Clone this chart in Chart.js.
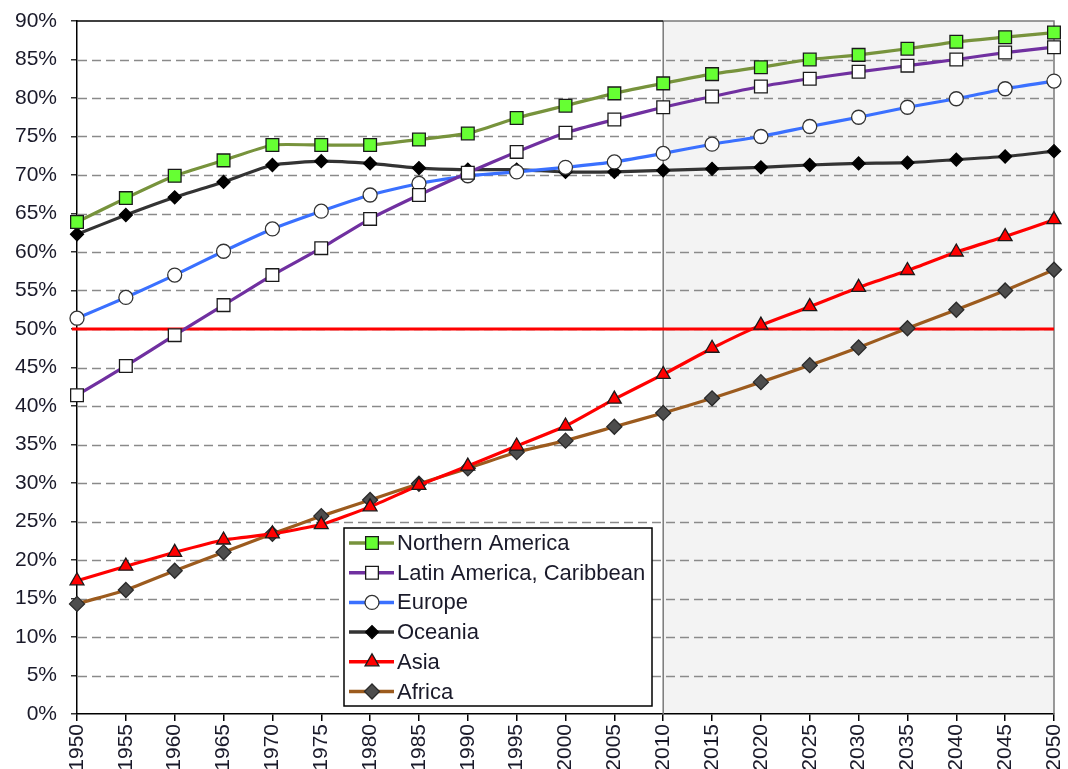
<!DOCTYPE html>
<html>
<head>
<meta charset="utf-8">
<script src="https://cdn.jsdelivr.net/npm/chart.js@4/dist/chart.umd.min.js"></script>
<style>
  html, body { margin: 0; padding: 0; background: #fff; }
  #wrap { width: 1068px; height: 769px; position: relative; }
</style>
</head>
<body>
<div id="wrap"><canvas id="urbanChart"></canvas></div>
<script>
// Years on the x axis
const years = ['1950','1955','1960','1965','1970','1975','1980','1985','1990','1995','2000',
               '2005','2010','2015','2020','2025','2030','2035','2040','2045','2050'];

// Urban share of population (%) by region
const northernAmerica = [63.9, 67.0, 69.9, 71.9, 73.9, 73.9, 73.9, 74.6, 75.4, 77.4, 79.0,
                         80.6, 81.9, 83.1, 84.0, 85.0, 85.6, 86.4, 87.3, 87.9, 88.5];
const latinAmerica    = [41.4, 45.2, 49.2, 53.1, 57.0, 60.5, 64.3, 67.4, 70.3, 73.0, 75.5,
                         77.2, 78.8, 80.2, 81.5, 82.5, 83.4, 84.2, 85.0, 85.9, 86.6];
const europe          = [51.4, 54.1, 57.0, 60.1, 63.0, 65.3, 67.4, 68.9, 69.9, 70.4, 71.0,
                         71.7, 72.8, 74.0, 75.0, 76.3, 77.5, 78.8, 79.9, 81.2, 82.2];
const oceania         = [62.3, 64.8, 67.1, 69.1, 71.3, 71.8, 71.5, 70.9, 70.7, 70.7, 70.4,
                         70.4, 70.6, 70.8, 71.0, 71.3, 71.5, 71.6, 72.0, 72.4, 73.1];
const asia            = [17.3, 19.2, 21.0, 22.6, 23.4, 24.6, 26.9, 29.7, 32.2, 34.8, 37.4,
                         40.9, 44.1, 47.5, 50.5, 52.9, 55.4, 57.6, 60.0, 62.0, 64.2];
const africa          = [14.3, 16.1, 18.6, 21.0, 23.4, 25.7, 27.8, 29.9, 31.9, 34.0, 35.5,
                         37.3, 39.1, 41.0, 43.1, 45.3, 47.6, 50.1, 52.5, 55.0, 57.7];

const projectionStart = '2010';
const halfLine = 50;

const FONT = '"Liberation Sans", Arial, sans-serif';

const makeSet = (label, data, line, fill, style, radius, border) => ({
    label,
    data,
    borderColor: line,
    borderWidth: 3.2,
    pointStyle: style,
    pointRadius: radius,
    pointBackgroundColor: fill,
    pointBorderColor: border || '#1a1a1a',
    pointBorderWidth: 1.3,
    tension: 0.15,
    fill: false
});

const datasets = [
    makeSet('Northern America', northernAmerica, '#77933C', '#66FF33', 'rect', 9),
    makeSet('Latin America, Caribbean', latinAmerica, '#7030A0', '#ffffff', 'rect', 9),
    makeSet('Europe', europe, '#3A70FF', '#ffffff', 'circle', 7, '#333'),
    makeSet('Oceania', oceania, '#333333', '#000000', 'rectRot', 6.5, '#000'),
    makeSet('Asia', asia, '#FF0000', '#FF0000', 'triangle', 8),
    makeSet('Africa', africa, '#9C5B1E', '#4D4D4D', 'rectRot', 7.5, '#2a2a2a')
];

// Background shading, dashed grid, 50% line and the 2010 marker line
const decorations = {
    id: 'decorations',
    beforeDraw(chart) {
        const { ctx, chartArea: a, scales: { x } } = chart;
        const xs = x.getPixelForValue(years.indexOf(projectionStart));
        ctx.save();
        ctx.fillStyle = '#F3F3F3';
        ctx.fillRect(xs, a.top, a.right - xs, a.bottom - a.top);
        ctx.restore();
    },
    beforeDatasetsDraw(chart) {
        const { ctx, chartArea: a, scales: { x, y } } = chart;
        ctx.save();
        // dashed grid
        ctx.strokeStyle = '#8a8a8a';
        ctx.lineWidth = 1.5;
        ctx.setLineDash([9, 5]);
        y.ticks.forEach(t => {
            if (t.value <= 0 || t.value >= 90) return;
            const py = Math.round(y.getPixelForValue(t.value)) + 0.5;
            ctx.beginPath();
            ctx.moveTo(a.left + 1, py);
            ctx.lineTo(a.right, py);
            ctx.stroke();
        });
        ctx.setLineDash([]);
        // projection boundary
        const xs = x.getPixelForValue(years.indexOf(projectionStart));
        ctx.strokeStyle = '#7a7a7a';
        ctx.lineWidth = 1.5;
        ctx.beginPath();
        ctx.moveTo(xs, a.top);
        ctx.lineTo(xs, a.bottom);
        ctx.moveTo(xs, a.top);
        ctx.lineTo(a.right, a.top);
        ctx.lineTo(a.right, a.bottom);
        ctx.stroke();
        // top border left of 2010
        ctx.strokeStyle = '#000';
        ctx.beginPath();
        ctx.moveTo(a.left, a.top);
        ctx.lineTo(xs, a.top);
        ctx.stroke();
        // 50% line
        const py = y.getPixelForValue(halfLine);
        ctx.strokeStyle = '#FF0000';
        ctx.lineWidth = 3;
        ctx.beginPath();
        ctx.moveTo(a.left - 5, py);
        ctx.lineTo(a.right, py);
        ctx.stroke();
        ctx.restore();
    }
};

// Legend box with line + marker samples
const boxLegend = {
    id: 'boxLegend',
    afterDraw(chart) {
        const { ctx, chartArea: a } = chart;
        const left = a.left + 267, top = a.top + 507, w = 308, h = 178;
        ctx.save();
        ctx.fillStyle = '#fff';
        ctx.fillRect(left, top, w, h);
        ctx.strokeStyle = '#000';
        ctx.lineWidth = 1.5;
        ctx.strokeRect(left, top, w, h);
        ctx.font = '22px ' + FONT;
        ctx.textBaseline = 'middle';
        chart.data.datasets.forEach((ds, i) => {
            const cy = top + 15 + i * 29.7;
            ctx.strokeStyle = ds.borderColor;
            ctx.lineWidth = 3.5;
            ctx.beginPath();
            ctx.moveTo(left + 5, cy);
            ctx.lineTo(left + 50, cy);
            ctx.stroke();
            ctx.fillStyle = ds.pointBackgroundColor;
            ctx.strokeStyle = ds.pointBorderColor;
            ctx.lineWidth = ds.pointBorderWidth;
            Chart.helpers.drawPoint(ctx, {
                pointStyle: ds.pointStyle,
                radius: ds.pointRadius,
                rotation: 0,
                borderWidth: ds.pointBorderWidth
            }, left + 28, cy);
            ctx.fillStyle = '#1a1a2a';
            ctx.fillText(ds.label, left + 53, cy + 1);
        });
        ctx.restore();
    }
};

new Chart(document.getElementById('urbanChart'), {
    type: 'line',
    data: { labels: years, datasets },
    options: {
        responsive: true,
        maintainAspectRatio: false,
        animation: false,
        layout: { padding: { top: 21, right: 14, left: 0, bottom: 0 } },
        plugins: {
            legend: { display: false },
            tooltip: { enabled: false }
        },
        scales: {
            x: {
                offset: false,
                afterFit: s => {
                    s.height = 55;
                    s.paddingLeft = 0;
                    s.paddingRight = 0;
                },
                grid: { drawOnChartArea: false, color: '#000', lineWidth: 1.5, tickLength: 7 },
                border: { color: '#000', width: 1.5 },
                ticks: {
                    autoSkip: false,
                    maxRotation: 90,
                    minRotation: 90,
                    padding: 3,
                    color: '#1a1a2a',
                    font: { family: FONT, size: 21 }
                }
            },
            y: {
                min: 0,
                max: 90,
                afterFit: s => {
                    s.width = 77;
                    s.paddingTop = 0;
                    s.paddingBottom = 0;
                },
                grid: { drawOnChartArea: false, color: '#333', lineWidth: 1.5, tickLength: 6 },
                border: { color: '#000', width: 1.5 },
                ticks: {
                    stepSize: 5,
                    padding: 14,
                    color: '#1a1a2a',
                    font: { family: FONT, size: 21 },
                    callback: v => v + '%'
                }
            }
        }
    },
    plugins: [decorations, boxLegend]
});
</script>
</body>
</html>
